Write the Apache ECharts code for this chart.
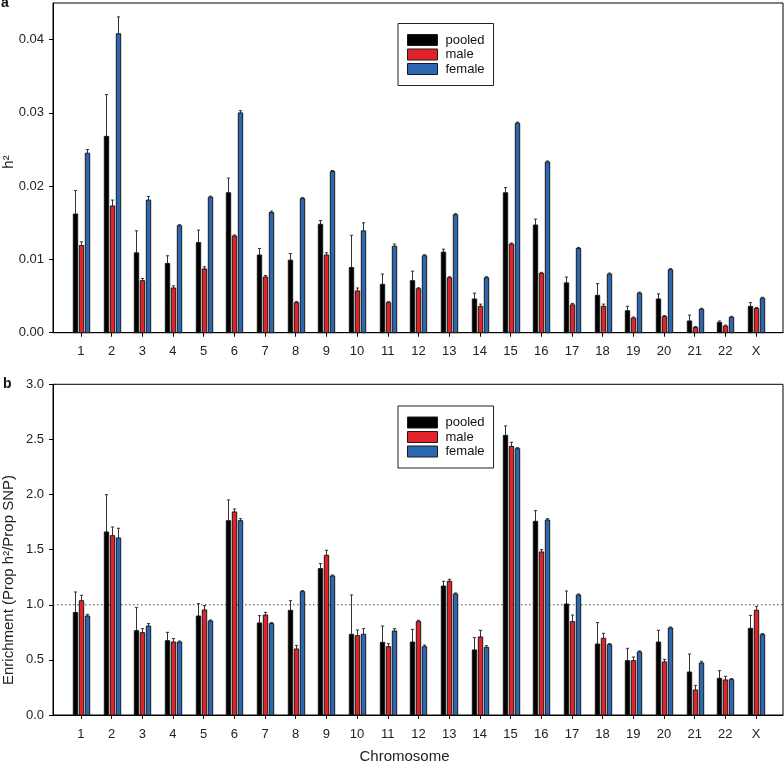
<!DOCTYPE html>
<html>
<head>
<meta charset="utf-8">
<script src="https://cdn.jsdelivr.net/npm/echarts@6/dist/echarts.min.js"></script>
<style>html,body{margin:0;padding:0;background:#fff}#c{width:784px;height:763px}</style>
</head>
<body>
<div id="c"></div>
<script>
const categories = ['1','2','3','4','5','6','7','8','9','10','11','12','13','14','15','16','17','18','19','20','21','22','X'];
const seriesNames = ['pooled','male','female'];
const aTicks = [0, 0.01, 0.02, 0.03, 0.04];
const bTicks = [0, 0.5, 1.0, 1.5, 2.0, 2.5, 3.0];

// Panel a: h2 (value, upper error bound)
const aPooled   = [0.0162,0.0268,0.0109,0.00945,0.0123,0.0191,0.0106,0.0099,0.0148,0.0089,0.0066,0.0071,0.0110,0.0046,0.0191,0.0147,0.0068,0.0051,0.0030,0.0046,0.0016,0.0014,0.0036];
const aPooledUp = [0.0194,0.0325,0.0139,0.0105,0.0140,0.0211,0.0115,0.0108,0.0153,0.0133,0.0080,0.0084,0.0114,0.0054,0.0198,0.0155,0.0076,0.0067,0.0036,0.0053,0.0024,0.0016,0.0041];
const aMale     = [0.0119,0.0173,0.0071,0.0061,0.0087,0.0132,0.0076,0.0041,0.0106,0.0057,0.0041,0.0060,0.0075,0.0036,0.0121,0.0081,0.0038,0.0036,0.0020,0.0022,0.0007,0.0009,0.0033];
const aMaleUp   = [0.0124,0.0181,0.0074,0.0064,0.0090,0.0133,0.0078,0.0042,0.0109,0.0061,0.0042,0.0061,0.0076,0.0039,0.0122,0.0082,0.0040,0.0039,0.0021,0.0023,0.0008,0.0010,0.0034];
const aFemale   = [0.0245,0.0408,0.0181,0.0146,0.0185,0.0300,0.0164,0.0183,0.0220,0.0139,0.0118,0.0105,0.0161,0.0075,0.0286,0.0233,0.0115,0.0080,0.0054,0.0086,0.0032,0.0021,0.0047];
const aFemaleUp = [0.0250,0.0431,0.0186,0.0147,0.0186,0.0303,0.0166,0.0184,0.0221,0.0150,0.0121,0.0106,0.0162,0.0076,0.0286,0.0234,0.0116,0.0081,0.0055,0.0086,0.0033,0.0021,0.0048];

// Panel b: enrichment (value, upper error bound)
const bPooled   = [0.930,1.660,0.765,0.674,0.898,1.763,0.835,0.950,1.328,0.732,0.659,0.662,1.170,0.590,2.537,1.757,1.007,0.644,0.493,0.662,0.390,0.333,0.786];
const bPooledUp = [1.116,1.999,0.974,0.750,1.010,1.951,0.901,1.037,1.373,1.089,0.807,0.777,1.213,0.702,2.622,1.854,1.125,0.838,0.605,0.768,0.553,0.402,0.904];
const bMale     = [1.037,1.627,0.747,0.662,0.953,1.842,0.907,0.599,1.449,0.720,0.620,0.847,1.213,0.708,2.437,1.479,0.847,0.696,0.493,0.481,0.227,0.318,0.950];
const bMaleUp   = [1.086,1.706,0.783,0.693,0.992,1.869,0.931,0.632,1.494,0.771,0.647,0.859,1.231,0.768,2.474,1.500,0.907,0.741,0.526,0.505,0.269,0.351,0.986];
const bFemale   = [0.898,1.606,0.807,0.662,0.853,1.763,0.829,1.119,1.261,0.732,0.762,0.620,1.098,0.614,2.416,1.769,1.089,0.638,0.572,0.789,0.472,0.321,0.729];
const bFemaleUp = [0.913,1.694,0.829,0.668,0.859,1.781,0.835,1.125,1.267,0.783,0.783,0.635,1.104,0.629,2.422,1.781,1.098,0.644,0.581,0.798,0.487,0.327,0.735];

const colors = ['#000000', '#e4222a', '#2c67b1'];
const offsets = [-6, 0, 6];
const FONT = 'Liberation Sans, Arial, Helvetica, sans-serif';
const xPos = categories.map((c, i) => i + 1);
const X_MIN = 0.09, X_MAX = 23.88;

function makeData(vals, ups) {
  return categories.map((c, i) => [i + 1, vals[i], ups[i]]);
}

function makeRender(k) {
  return function (params, api) {
    const x = api.value(0), v = api.value(1), e = api.value(2);
    const base = api.coord([x, 0]);
    const top = api.coord([x, v]);
    const et = api.coord([x, e]);
    const cx = Math.round(base[0] + offsets[k]) + 0.5;
    const w = 4.4;
    const eTop = Math.min(et[1], top[1] - 1);
    return {
      type: 'group',
      children: [
        { type: 'line', shape: { x1: cx, y1: top[1], x2: cx, y2: eTop }, style: { stroke: '#333', lineWidth: 1 } },
        { type: 'line', shape: { x1: cx - 1.6, y1: eTop, x2: cx + 1.6, y2: eTop }, style: { stroke: '#333', lineWidth: 1 } },
        { type: 'rect', shape: { x: cx - w / 2, y: top[1], width: w, height: base[1] - top[1] },
          style: { fill: colors[k], stroke: '#1a1a1a', lineWidth: 1 } }
      ]
    };
  };
}

function xAxisFor(gi) {
  return {
    type: 'value', gridIndex: gi, min: X_MIN, max: X_MAX,
    axisLine: { show: true, onZero: false, lineStyle: { color: '#000', width: 1 } },
    axisTick: { show: true, length: 4, lineStyle: { color: '#000' }, customValues: xPos },
    axisLabel: { customValues: xPos, formatter: v => categories[Math.round(v) - 1], margin: 12.5,
      fontFamily: FONT, fontSize: 13, color: '#222' },
    splitLine: { show: false }
  };
}

const series = [];
const aSets = [[aPooled, aPooledUp], [aMale, aMaleUp], [aFemale, aFemaleUp]];
const bSets = [[bPooled, bPooledUp], [bMale, bMaleUp], [bFemale, bFemaleUp]];

series.push({
  type: 'line', xAxisIndex: 1, yAxisIndex: 1, silent: true, symbol: 'none',
  data: [[X_MIN, 1], [X_MAX, 1]],
  lineStyle: { type: [1.5, 2.5], color: '#444', width: 1 }, z: 1
});

[aSets, bSets].forEach((sets, gi) => {
  sets.forEach((s, k) => {
    series.push({
      type: 'custom', name: seriesNames[k], xAxisIndex: gi, yAxisIndex: gi,
      renderItem: makeRender(k),
      itemStyle: { color: colors[k], borderColor: '#1a1a1a', borderWidth: 1 },
      encode: { x: 0, y: [1, 2] },
      data: makeData(s[0], s[1]), z: 2, clip: false
    });
  });
});

function legendFor(top) {
  return {
    orient: 'vertical', left: 398, top: top, icon: 'rect',
    itemWidth: 30, itemHeight: 11, itemGap: 1.5,
    padding: [10, 9, 10, 9],
    borderColor: '#222', borderWidth: 1,
    textStyle: { fontFamily: FONT, fontSize: 13, color: '#111', padding: [0, 0, 0, 3] },
    data: seriesNames.map((n, k) => ({ name: n, itemStyle: { color: colors[k], borderColor: '#1a1a1a', borderWidth: 1 } }))
  };
}

const option = {
  animation: false,
  backgroundColor: '#fff',
  grid: [
    { left: 53, top: 3, width: 730, height: 329.7, show: true, borderColor: '#000', borderWidth: 1, containLabel: false },
    { left: 53, top: 384.3, width: 730, height: 330.7, show: true, borderColor: '#000', borderWidth: 1, containLabel: false }
  ],
  xAxis: [xAxisFor(0), xAxisFor(1)],
  yAxis: [
    { type: 'value', gridIndex: 0, min: 0, max: 0.045,
      axisLine: { show: true, lineStyle: { color: '#000' } },
      axisTick: { show: true, length: 4, lineStyle: { color: '#000' }, customValues: aTicks },
      axisLabel: { customValues: aTicks, formatter: v => v.toFixed(2), margin: 9, fontFamily: FONT, fontSize: 13, color: '#222' },
      splitLine: { show: false } },
    { type: 'value', gridIndex: 1, min: 0, max: 3, interval: 0.5,
      axisLine: { show: true, lineStyle: { color: '#000' } },
      axisTick: { show: true, length: 4, lineStyle: { color: '#000' } },
      axisLabel: { formatter: v => v.toFixed(1), margin: 9, fontFamily: FONT, fontSize: 13, color: '#222' },
      splitLine: { show: false } }
  ],
  legend: [legendFor(23.5), legendFor(406)],
  graphic: [
    { type: 'text', left: 1, top: -4, style: { text: 'a', font: 'bold 14px ' + FONT, fill: '#111' } },
    { type: 'text', left: 3, top: 377, style: { text: 'b', font: 'bold 14px ' + FONT, fill: '#111' } },
    { type: 'text', x: 9, y: 162, rotation: Math.PI / 2,
      style: { text: 'h²', font: '15px ' + FONT, fill: '#222', textAlign: 'center', textVerticalAlign: 'middle' } },
    { type: 'text', x: 9, y: 580, rotation: Math.PI / 2,
      style: { text: 'Enrichment (Prop h²/Prop SNP)', font: '15px ' + FONT, fill: '#222', textAlign: 'center', textVerticalAlign: 'middle' } },
    { type: 'text', x: 404.5, y: 756.5,
      style: { text: 'Chromosome', font: '15px ' + FONT, fill: '#222', textAlign: 'center', textVerticalAlign: 'middle' } }
  ],
  series: series
};

const chart = echarts.init(document.getElementById('c'), null, { renderer: 'canvas' });
chart.setOption(option);
</script>
</body>
</html>
